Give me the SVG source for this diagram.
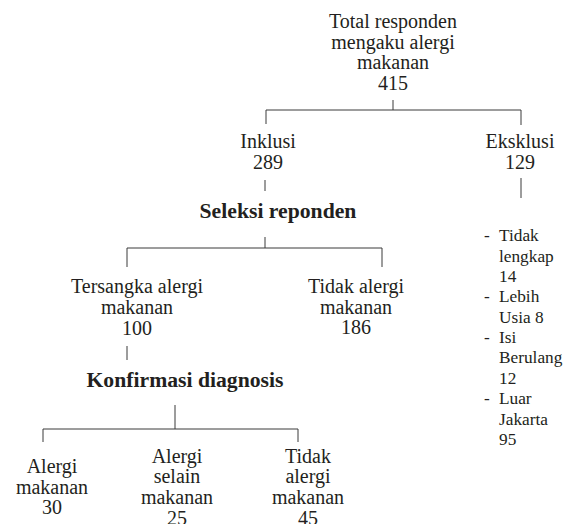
<svg xmlns="http://www.w3.org/2000/svg" width="572" height="524" viewBox="0 0 572 524">
<style>
  text { font-family: "Liberation Serif", "DejaVu Serif", serif; fill: #231f20; }
  .n { font-size: 20px; text-anchor: middle; }
  .b { font-size: 21.7px; font-weight: bold; text-anchor: middle; }
  .l { font-size: 17.3px; }
  .c line { stroke: #3a3a3a; stroke-width: 1; fill: none; }
</style>
<rect width="572" height="524" fill="#ffffff"/>
<g class="c" id="connectors">
  <line x1="393" y1="100" x2="393" y2="110"/>
  <line x1="266" y1="110" x2="521" y2="110"/>
  <line x1="266" y1="110" x2="266" y2="124"/>
  <line x1="521" y1="110" x2="521" y2="125"/>
  <line x1="265" y1="180" x2="265" y2="191"/>
  <line x1="521" y1="178" x2="521" y2="198"/>
  <line x1="265" y1="237" x2="265" y2="248"/>
  <line x1="127" y1="248" x2="382" y2="248"/>
  <line x1="127" y1="248" x2="127" y2="267"/>
  <line x1="382" y1="248" x2="382" y2="267"/>
  <line x1="127" y1="346" x2="127" y2="360"/>
  <line x1="175" y1="405" x2="175" y2="429"/>
  <line x1="43" y1="429" x2="298" y2="429"/>
  <line x1="43" y1="429" x2="43" y2="442"/>
  <line x1="298" y1="429" x2="298" y2="442"/>
</g>
<g id="total" font-family="Liberation Serif, serif">
  <text class="n" x="393" y="28">Total responden</text>
  <text class="n" x="393" y="48.5">mengaku alergi</text>
  <text class="n" x="393" y="69">makanan</text>
  <text class="n" x="393" y="90">415</text>
</g>
<g id="inklusi">
  <text class="n" x="268" y="148">Inklusi</text>
  <text class="n" x="268" y="169">289</text>
</g>
<g id="eksklusi">
  <text class="n" x="520" y="148">Eksklusi</text>
  <text class="n" x="520" y="169">129</text>
</g>
<g id="eksklusi-list">
  <text class="l" x="484" y="241">-</text>
  <text class="l" x="499" y="241">Tidak</text>
  <text class="l" x="499" y="262">lengkap</text>
  <text class="l" x="499" y="282">14</text>
  <text class="l" x="484" y="302">-</text>
  <text class="l" x="499" y="302">Lebih</text>
  <text class="l" x="499" y="323">Usia 8</text>
  <text class="l" x="484" y="343">-</text>
  <text class="l" x="499" y="343">Isi</text>
  <text class="l" x="499" y="363">Berulang</text>
  <text class="l" x="499" y="384">12</text>
  <text class="l" x="484" y="404">-</text>
  <text class="l" x="499" y="404">Luar</text>
  <text class="l" x="499" y="425">Jakarta</text>
  <text class="l" x="499" y="445">95</text>
</g>
<g id="seleksi">
  <text class="b" x="278" y="218">Seleksi reponden</text>
</g>
<g id="tersangka">
  <text class="n" x="137" y="293">Tersangka alergi</text>
  <text class="n" x="137" y="314">makanan</text>
  <text class="n" x="137" y="335">100</text>
</g>
<g id="tidak-alergi-1">
  <text class="n" x="356" y="293">Tidak alergi</text>
  <text class="n" x="356" y="314">makanan</text>
  <text class="n" x="356" y="334">186</text>
</g>
<g id="konfirmasi">
  <text class="b" x="185" y="387">Konfirmasi diagnosis</text>
</g>
<g id="alergi-makanan">
  <text class="n" x="52" y="473">Alergi</text>
  <text class="n" x="52" y="494">makanan</text>
  <text class="n" x="52" y="514">30</text>
</g>
<g id="alergi-selain">
  <text class="n" x="177" y="463">Alergi</text>
  <text class="n" x="177" y="483">selain</text>
  <text class="n" x="177" y="504">makanan</text>
  <text class="n" x="177" y="525">25</text>
</g>
<g id="tidak-alergi-2">
  <text class="n" x="308" y="463">Tidak</text>
  <text class="n" x="308" y="483">alergi</text>
  <text class="n" x="308" y="504">makanan</text>
  <text class="n" x="308" y="525">45</text>
</g>
</svg>
